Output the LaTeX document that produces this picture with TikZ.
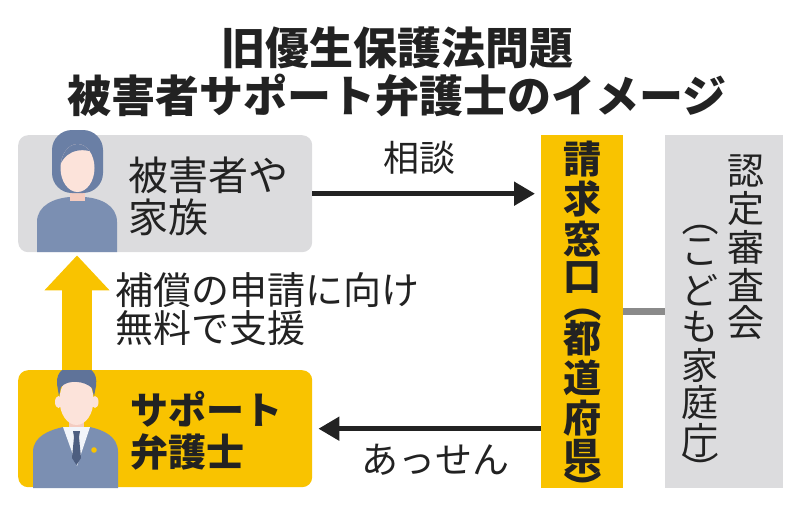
\documentclass[tikz,border=0pt]{standalone}
\usepackage{fontspec}
\setmainfont{Noto Sans CJK JP}
\usepackage{xcolor}
\usetikzlibrary{arrows.meta,positioning,calc}

\definecolor{ink}{HTML}{222222}
\definecolor{panelgray}{HTML}{DCDCDE}
\definecolor{gold}{HTML}{F9C300}
\definecolor{linkgray}{HTML}{8A8A8A}
\definecolor{suit}{HTML}{7B8FB2}
\definecolor{hairblue}{HTML}{6A7FA5}
\definecolor{hairdark}{HTML}{5F7399}
\definecolor{skin}{HTML}{FCE3DA}
\definecolor{skinshade}{HTML}{F4CCC0}
\definecolor{tieblue}{HTML}{4D5E80}
\definecolor{shirt}{HTML}{F2F5FA}

\begin{document}
\begin{tikzpicture}[x=1pt, y=-1pt,
    box/.style={rectangle, rounded corners=10pt, minimum width=294pt, minimum height=117pt, anchor=north west, inner sep=0pt},
    column/.style={rectangle, minimum height=353pt, anchor=north west, inner sep=0pt},
    flow/.style={line width=5pt, color=ink, -{Triangle[length=21pt,width=23pt]}, shorten >=6pt},
    lift/.style={line width=30pt, color=gold, -{Triangle[length=35pt,width=63pt]}},
    label/.style={inner sep=0pt, text=ink},
    wintext/.style={inner sep=0pt, text=ink, font=\bfseries\fontsize{38}{38}\selectfont},
    boardtext/.style={inner sep=0pt, text=ink, font=\fontsize{37}{37}\selectfont},
    paren/.style={rotate=-90, text height=30pt, text depth=8pt}]
    \useasboundingbox (0,0) rectangle (800,506);

    % title
    \node (title) [label, align=center, font=\bfseries\fontsize{44}{48}\selectfont] at (397,72) {旧優生保護法問題\\被害者サポート弁護士のイメージ};

    % boxes
    \node (victim) [box, fill=panelgray] at (18,135) {};
    \node (lawyer) [box, fill=gold] at (18,370) {};
    \node (window) [column, fill=gold, minimum width=82pt] at (541,135) {};
    \node (board) [column, fill=panelgray, minimum width=118pt] at (665,135) {};

    % woman
    \fill[suit] (37,252) -- (37,222) .. controls (37,205) and (55,198) .. (70,197) -- (84,197) .. controls (100,198) and (117,205) .. (117,222) -- (117,252) -- cycle;
    \fill[skinshade] (70,186) rectangle (85,201);
    \fill[hairblue, rounded corners=20pt] (52,130) rectangle (103,193);
    \fill[skin] (77.5,168) ellipse (17 and 24);
    \begin{scope}
        \clip (77.5,168) ellipse (17 and 24);
        \fill[hairblue] (58,172) .. controls (62,152) and (78,146) .. (96,153) -- (96,130) -- (58,130) -- cycle;
    \end{scope}

    % man
    \fill[suit] (33,488) -- (33,452) .. controls (33,436) and (50,430) .. (63,427) -- (90,427) .. controls (103,430) and (118,436) .. (118,452) -- (118,488) -- cycle;
    \fill[skinshade] (69,414) rectangle (84,430);
    \fill[shirt] (63,427) -- (90,427) -- (77,466) -- cycle;
    \fill[tieblue] (73,431) -- (80,431) -- (79,437) -- (81,458) -- (76.5,465) -- (72,458) -- (74,437) -- cycle;
    \fill[gold] (94,450) circle (2.8);
    \fill[skin] (58.5,402) ellipse (3.5 and 6);
    \fill[skin] (95,402) ellipse (3.5 and 6);
    \fill[skin] (76.5,400) ellipse (17 and 25);
    \fill[hairdark] (59,396) -- (57,384) .. controls (56,370) and (66,366) .. (77,366) .. controls (90,366) and (98,372) .. (96,386) -- (94,396) -- (92,388) .. controls (85,381) and (68,379) .. (61,387) -- cycle;

    % texts
    \node (victimtext) [label, anchor=west, align=left, font=\fontsize{40}{42}\selectfont] at (128,196) {被害者や\\家族};
    \node (lawyertext) [label, anchor=west, align=left, font=\bfseries\fontsize{38}{42}\selectfont] at (130,431) {サポート\\弁護士};
    \node (aidtext) [label, anchor=west, align=left, font=\fontsize{38}{38.5}\selectfont] at (115,309) {補償の申請に向け\\無料で支援};

    \foreach \ch/\yy [count=\i] in {請/159,求/199,窓/239,口/278,都/338,道/378,府/418,県/457}
        \node (win\i) [wintext] at (582,\yy) {\ch};
    \node (winopen) [wintext, paren] at (579,303) {\makebox[0pt]{（}};
    \node (winclose) [wintext, paren] at (579,488) {\makebox[0pt]{）}};
    \foreach \ch/\yy [count=\i] in {認/171,定/209,審/247,査/285,会/323}
        \node (boardA\i) [boardtext] at (746,\yy) {\ch};
    \foreach \ch/\yy [count=\i] in {こ/252,ど/290,も/327,家/365,庭/403,庁/440}
        \node (boardB\i) [boardtext] at (700,\yy) {\ch};
    \node (boardopen) [boardtext, paren] at (697,218) {\makebox[0pt]{（}};
    \node (boardclose) [boardtext, paren] at (697,470) {\makebox[0pt]{）}};

    % connectors
    \draw [flow] (victim.east) -- node[label, pos=0.47, above=17pt, font=\fontsize{36}{36}\selectfont] (consult) {相談} (window.west |- victim.east);
    \draw [flow] (window.west |- lawyer.east) -- node[label, pos=0.46, below=13pt, font=\fontsize{37}{37}\selectfont] (mediate) {あっせん} (lawyer.east);
    \draw [lift] ([xshift=59pt]lawyer.north west) -- ([xshift=59pt,yshift=-3pt]victim.south west);
    \draw [line width=7pt, linkgray] (window.east) -- (board.west);
\end{tikzpicture}
\end{document}
